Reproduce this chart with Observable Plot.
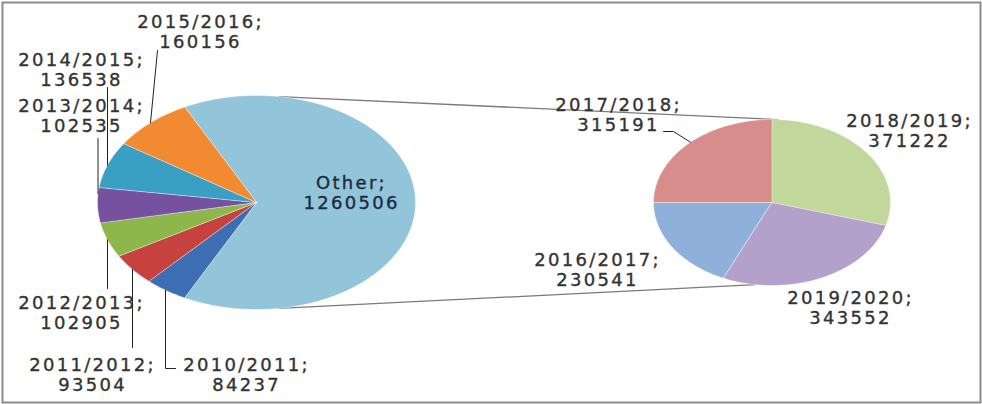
<!DOCTYPE html>
<html>
<head>
<meta charset="utf-8">
<script src="https://cdn.jsdelivr.net/npm/d3@7"></script>
<script src="https://cdn.jsdelivr.net/npm/@observablehq/plot@0.6"></script>
<style>
  html, body { margin: 0; padding: 0; background: #fff; }
  #chart svg text { letter-spacing: 2.3px; }
</style>
</head>
<body>
<div id="chart"></div>
<script>
// ---- data ----
const mainCategories = ["Other", "2010/2011", "2011/2012", "2012/2013", "2013/2014", "2014/2015", "2015/2016"];
const mainValues = [1260506, 84237, 93504, 102905, 102535, 136538, 160156];
const subCategories = ["2016/2017", "2017/2018", "2018/2019", "2019/2020"];
const subValues = [230541, 315191, 371222, 343552];

// ---- styles ----
const mainColors = ["#92c4da", "#3d6db3", "#c6423f", "#8db64b", "#7551a0", "#3aa0c3", "#f28a32"];
const subColors = ["#90b0dc", "#d68d8b", "#c2d79b", "#b3a1cc"];

// ---- geometry (ellipse-flattened pies) ----
const mainGeo = {cx: 256, cy: 202, rx: 159, ry: 107};
const subGeo = {cx: 771.5, cy: 202, rx: 118.5, ry: 83};
const deg = Math.PI / 180;
const pt = (g, a) => [g.cx + g.rx * Math.sin(a), g.cy - g.ry * Math.cos(a)];

const mainTotal = d3.sum(mainValues);
const otherFrac = mainValues[0] / mainTotal;
const mainStart = Math.PI / 2 - Math.PI * otherFrac;   // "Other" centred at 3 o'clock
const subTotal = d3.sum(subValues);
const subStart = 1.5 * Math.PI - 2 * Math.PI * subValues[0] / subTotal; // 2017/2018 starts at 9 o'clock

function slices(values, names, colors, geo, start) {
  const arcs = d3.pie().sort(null).startAngle(start).endAngle(start + 2 * Math.PI)(values);
  const rows = [];
  arcs.forEach((a, i) => {
    const key = names[i];
    rows.push({key, color: colors[i], x: geo.cx, y: geo.cy});
    const n = Math.max(2, Math.ceil((a.endAngle - a.startAngle) / deg));
    for (let k = 0; k <= n; k++) {
      const t = a.startAngle + (a.endAngle - a.startAngle) * k / n;
      const [x, y] = pt(geo, t);
      rows.push({key, color: colors[i], x, y});
    }
  });
  return rows;
}
const sliceRows = [
  ...slices(mainValues, mainCategories, mainColors, mainGeo, mainStart),
  ...slices(subValues, subCategories, subColors, subGeo, subStart)
];

// connector lines between the pies
const [t1x, t1y] = pt(mainGeo, 8 * deg), [t2x, t2y] = pt(subGeo, 3 * deg);
const [b1x, b1y] = pt(mainGeo, 172 * deg), [b2x, b2y] = pt(subGeo, 188 * deg);
const connectors = [
  {x1: t1x, y1: t1y, x2: t2x, y2: t2y},
  {x1: b1x, y1: b1y, x2: b2x, y2: b2y}
];

// ---- label layout ----
const labelPos = {
  "2015/2016": [200, 31], "2014/2015": [81, 69], "2013/2014": [81, 115],
  "2012/2013": [81, 312], "2011/2012": [92, 374], "2010/2011": [246, 374],
  "2016/2017": [597, 269], "2017/2018": [618, 114], "2018/2019": [909, 130], "2019/2020": [850, 307]
};
const allNames = [...mainCategories, ...subCategories];
const allValues = [...mainValues, ...subValues];
const labels = allNames.filter(n => n !== "Other").map(n => ({
  text: `${n};\n${allValues[allNames.indexOf(n)]}`, x: labelPos[n][0], y: labelPos[n][1]
}));
const otherLabel = [{text: `Other;\n${mainValues[0]}`, x: 351, y: 192}];

// leader lines: fixed start points, end on the ellipse edge at a given x
function edgeY(g, x, lower) {
  const u = (x - g.cx) / g.rx;
  const dy = g.ry * Math.sqrt(Math.max(0, 1 - u * u));
  return lower ? g.cy + dy : g.cy - dy;
}
const leaderSpecs = [
  {key: "2015/2016", pts: [[157, 50]], g: mainGeo, ex: 150, lower: false},
  {key: "2014/2015", pts: [[107, 87]], g: mainGeo, ex: 107, lower: false},
  {key: "2013/2014", pts: [[97.5, 138]], g: mainGeo, ex: 97.5, lower: false},
  {key: "2012/2013", pts: [[107, 288]], g: mainGeo, ex: 107, lower: true},
  {key: "2011/2012", pts: [[132, 347]], g: mainGeo, ex: 132, lower: true},
  {key: "2010/2011", pts: [[175, 368], [165, 368]], g: mainGeo, ex: 165, lower: true},
  {key: "2017/2018", pts: [[663, 131], [673, 131]], g: subGeo, ex: 690, lower: false}
];
const leaderRows = [];
leaderSpecs.forEach(s => {
  s.pts.forEach(([x, y]) => leaderRows.push({key: s.key, x, y}));
  leaderRows.push({key: s.key, x: s.ex, y: edgeY(s.g, s.ex, s.lower)});
});

const chart = Plot.plot({
  width: 982,
  height: 404,
  margin: 0,
  x: {domain: [0, 982], range: [0, 982], axis: null},
  y: {domain: [0, 404], range: [0, 404], axis: null},
  color: {type: "identity"},
  style: {fontFamily: "'DejaVu Sans', Verdana, sans-serif", background: "#fff"},
  marks: [
    Plot.frame({stroke: "#8c8c8c", strokeWidth: 2, inset: 2}),
    Plot.link(connectors, {x1: "x1", y1: "y1", x2: "x2", y2: "y2", stroke: "#7a7a7a", strokeWidth: 1.3}),
    Plot.line(sliceRows, {x: "x", y: "y", z: "key", fill: "color", stroke: "#ffffff", strokeWidth: 0.8, strokeOpacity: 0.5, curve: "linear-closed"}),
    Plot.line(leaderRows, {x: "x", y: "y", z: "key", stroke: "#222", strokeWidth: 1, curve: "linear"}),
    Plot.text(labels, {x: "x", y: "y", text: "text", fontSize: 18, lineHeight: 1.15, fill: "#333333", stroke: "#333333", strokeWidth: 0.35, textAnchor: "middle"}),
    Plot.text(otherLabel, {x: "x", y: "y", text: "text", fontSize: 18, lineHeight: 1.12, fill: "#1c2b3b", stroke: "#1c2b3b", strokeWidth: 0.35, textAnchor: "middle"})
  ]
});
document.getElementById("chart").appendChild(chart);
</script>
</body>
</html>
